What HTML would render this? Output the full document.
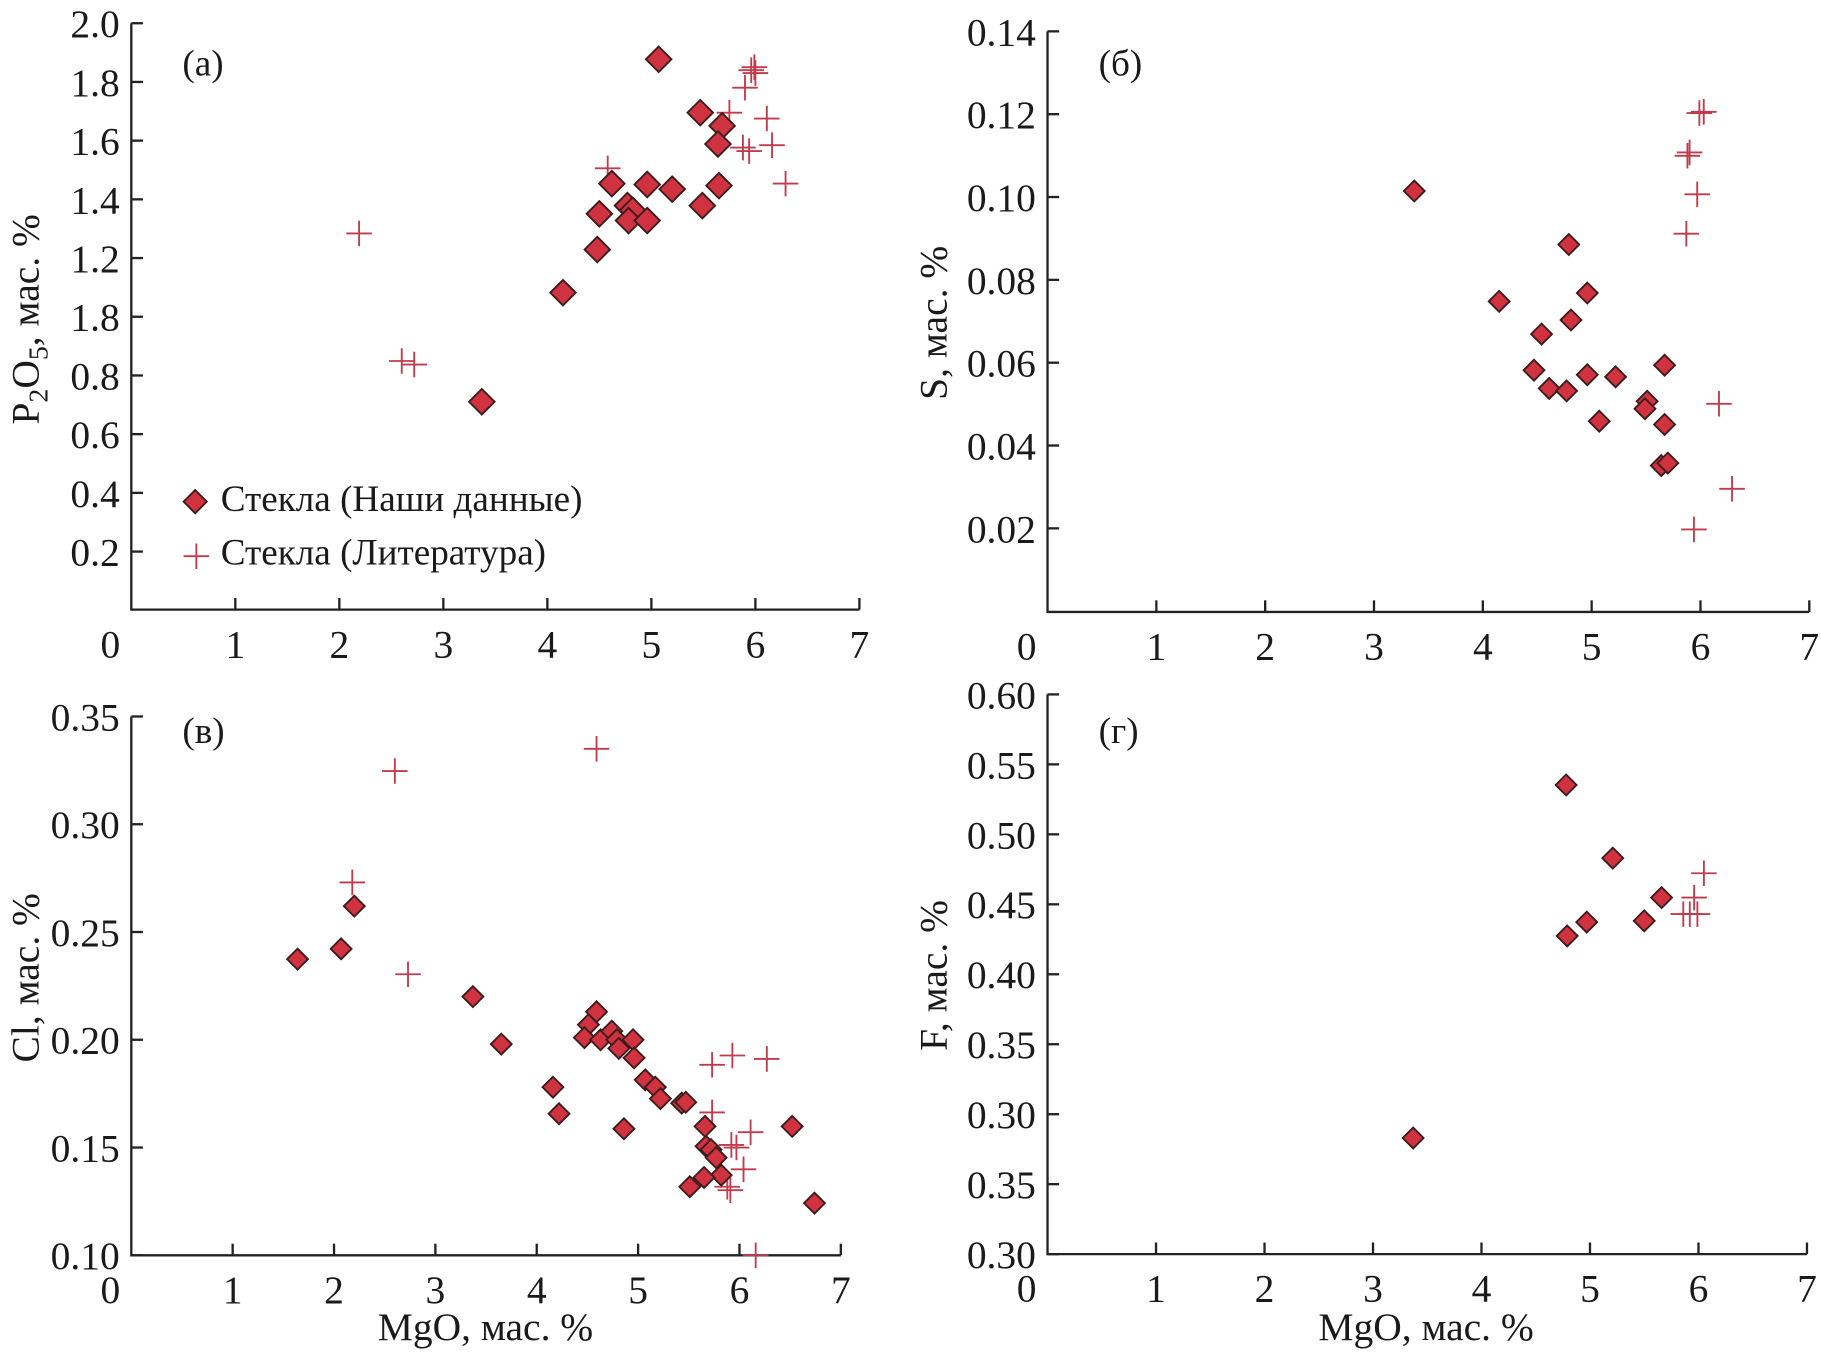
<!DOCTYPE html>
<html><head><meta charset="utf-8"><style>
html,body{margin:0;padding:0;background:#fff;}
svg{display:block;}
text{font-family:"Liberation Serif","Times New Roman","DejaVu Serif",serif;fill:#1a1a1a;}
</style></head><body>
<svg id="fig" width="1821" height="1354" viewBox="0 0 1568 1166" xmlns="http://www.w3.org/2000/svg" font-family="Liberation Serif, serif"></svg>
<script>
// ---- Data ----
const aDiaX=[5.07,5.47,5.68,5.64,5.65,4.62,4.96,5.2,5.49,4.5,4.77,4.82,4.78,4.96,4.48,4.15,3.37];
const aDiaY=[1.877,1.695,1.65,1.588,1.446,1.453,1.45,1.434,1.378,1.35,1.378,1.362,1.327,1.327,1.228,1.081,0.709];
const aPlusX=[2.19,2.6,2.72,4.58,5.75,5.9,5.99,6.0,5.96,6.11,6.16,5.88,5.94,6.29];
const aPlusY=[1.283,0.848,0.836,1.505,1.695,1.78,1.85,1.83,1.84,1.675,1.584,1.576,1.564,1.453];
const aYTicks=["0.2","0.4","0.6","0.8","1.8","1.2","1.4","1.6","1.8","2.0"];

const bDiaX=[3.37,4.15,4.79,4.96,4.81,4.54,4.47,4.61,4.77,4.96,5.22,5.07,5.51,5.49,5.67,5.67,5.64,5.70];
const bDiaY=[0.1015,0.0749,0.0886,0.0769,0.0704,0.067,0.0583,0.0539,0.0533,0.0572,0.0567,0.046,0.0508,0.049,0.0595,0.0452,0.0353,0.0359];
const bPlusX=[5.90,5.88,6.03,5.99,5.97,5.87,6.17,6.29,5.94];
const bPlusY=[0.1108,0.110,0.1206,0.1203,0.1007,0.0912,0.0502,0.0297,0.0199];
const bYTicks=["0.02","0.04","0.06","0.08","0.10","0.12","0.14"];

const cDiaX=[1.64,2.07,2.2,3.37,3.65,4.16,4.22,4.59,4.51,4.47,4.63,4.74,4.79,4.95,4.81,4.96,5.07,5.17,5.22,5.43,5.47,4.86,5.66,5.67,5.72,5.77,5.82,5.65,5.51,6.52,6.74];
const cDiaY=[0.2374,0.2422,0.262,0.220,0.198,0.178,0.1657,0.213,0.207,0.201,0.2,0.204,0.2,0.2,0.196,0.1916,0.1814,0.178,0.1727,0.1706,0.171,0.1587,0.1598,0.1506,0.149,0.1453,0.1372,0.1361,0.1318,0.1598,0.1242];
const cPlusX=[2.6,4.59,2.18,2.73,5.73,5.93,6.27,5.73,6.11,5.92,5.97,6.04,5.88,5.91,6.16];
const cPlusY=[0.3247,0.335,0.273,0.2304,0.1884,0.1927,0.1911,0.1663,0.1571,0.1512,0.150,0.1399,0.1318,0.1302,0.10];
const cYTicks=["0.10","0.15","0.20","0.25","0.30","0.35"];

const dDiaX=[4.78,5.21,5.66,4.97,5.50,4.79,3.37];
const dDiaY=[0.5353,0.483,0.4548,0.4373,0.4382,0.4274,0.283];
const dPlusX=[6.05,5.96,5.92,5.86,5.99];
const dPlusY=[0.4722,0.4548,0.443,0.443,0.443];
const dYTicks=["0.30","0.35","0.30","0.35","0.40","0.45","0.50","0.55","0.60"];

const xTicks=["0","1","2","3","4","5","6","7"];

const NS="http://www.w3.org/2000/svg";
const svg=document.getElementById('fig');
function mk(tag,attrs,parent){const e=document.createElementNS(NS,tag);for(const k in attrs)e.setAttribute(k,attrs[k]);(parent||svg).appendChild(e);return e;}

function panel(p){
  const g=mk('g',{});
  
  
  const sx=v=>p.x0+(v-0)*(p.x7-p.x0)/7;
  const sy=v=>p.yb-(v-p.ymin)*(p.yb-p.yt)/(p.ymax-p.ymin);
  const ax=mk('path',{d:`M${p.x0},${p.yt} V${p.yb} H${p.x7}`,fill:'none',stroke:'#222','stroke-width':2},g);
  
  
  for(let i=0;i<xTicks.length;i++){
    const x=sx(i);
    if(i>0){const t=mk('line',{x1:x,x2:x,y1:p.yb,y2:p.yb-10,stroke:'#222','stroke-width':2},g);
      }
    const l=mk('text',{x:i===0?x-18:x,y:p.yb+41,'font-size':34,'text-anchor':'middle'},g);
    l.textContent=xTicks[i];
    
    
  }
  const n=p.yTicks.length;
  for(let i=0;i<n;i++){
    const y=p.ytick0-(i)*(p.ytick0-p.yt)/(n-1);
    const t=mk('line',{x1:p.x0,x2:p.x0+10,y1:y,y2:y,stroke:'#222','stroke-width':2},g);
    
    const l=mk('text',{x:p.x0-10,y:y+12,'font-size':34,'text-anchor':'end'},g);
    l.textContent=p.yTicks[i];
    
    
  }
  for(let i=0;i<p.px.length;i++){
    const x=sx(p.px[i]),y=sy(p.py[i]);
    const m=mk('path',{d:`M${x-11},${y} H${x+11} M${x},${y-11} V${y+11}`,stroke:'#c23b4c','stroke-width':1.6,fill:'none'},g);
    
    
  }
  for(let i=0;i<p.dx.length;i++){
    const x=sx(p.dx[i]),y=sy(p.dy[i]),r=p.r;
    const m=mk('path',{d:`M${x},${y-r} L${x+r},${y} L${x},${y+r} L${x-r},${y} Z`,fill:'#d1323f',stroke:'#3a1c1c','stroke-width':1.6},g);
    
    
  }
  const lb=mk('text',{x:p.x0+44,y:p.ly,'font-size':32},g);
  lb.textContent=p.label;
  
  
  return g;
}

panel({name:'panel-a-p2o5',x0:113,x7:740,yt:20,yb:525,ytick0:475,ymin:0,ymax:2.0,yTicks:aYTicks,dx:aDiaX,dy:aDiaY,px:aPlusX,py:aPlusY,r:11,label:'(а)',ly:65});
panel({name:'panel-b-s',x0:902,x7:1558,yt:27,yb:527,ytick0:455,ymin:0,ymax:0.14,yTicks:bYTicks,dx:bDiaX,dy:bDiaY,px:bPlusX,py:bPlusY,r:9,label:'(б)',ly:65});
panel({name:'panel-c-cl',x0:113,x7:724,yt:617,yb:1081,ytick0:1081,ymin:0.10,ymax:0.35,yTicks:cYTicks,dx:cDiaX,dy:cDiaY,px:cPlusX,py:cPlusY,r:9,label:'(в)',ly:640});
panel({name:'panel-d-f',x0:902,x7:1556,yt:598,yb:1080,ytick0:1080,ymin:0.20,ymax:0.60,yTicks:dYTicks,dx:dDiaX,dy:dDiaY,px:dPlusX,py:dPlusY,r:9,label:'(г)',ly:640});

function ytitle(x,y,name,html){
  const t=mk('text',{x:0,y:0,'font-size':34,'text-anchor':'middle',transform:`translate(${x},${y}) rotate(-90)`});
  t.innerHTML=html;
  
  
}
ytitle(33,275,'y-axis-title-p2o5','P<tspan font-size="24" dy="8">2</tspan><tspan dy="-8">O</tspan><tspan font-size="24" dy="8">5</tspan><tspan dy="-8">, мас. %</tspan>');
ytitle(815,278,'y-axis-title-s','S, мас. %');
ytitle(33,842,'y-axis-title-cl','Cl, мас. %');
ytitle(815,840,'y-axis-title-f','F, мас. %');
function xt(x,name){const t=mk('text',{x:x,y:1154,'font-size':34,'text-anchor':'middle'});t.textContent='MgO, мас. %';
  }
xt(418,'x-axis-title-left');xt(1228,'x-axis-title-right');

const lg=mk('g',{});


const ld=mk('path',{d:'M168,422 L178,432 L168,442 L158,432 Z',fill:'#d1323f',stroke:'#3a1c1c','stroke-width':1.6},lg);

const lt1=mk('text',{x:190,y:440,'font-size':32},lg);lt1.textContent='Стекла (Наши данные)';

const lp=mk('path',{d:'M158,479 H180 M169,468 V490',stroke:'#c23b4c','stroke-width':1.6,fill:'none'},lg);

const lt2=mk('text',{x:190,y:486,'font-size':32},lg);lt2.textContent='Стекла (Литература)';

</script>
</body></html>
